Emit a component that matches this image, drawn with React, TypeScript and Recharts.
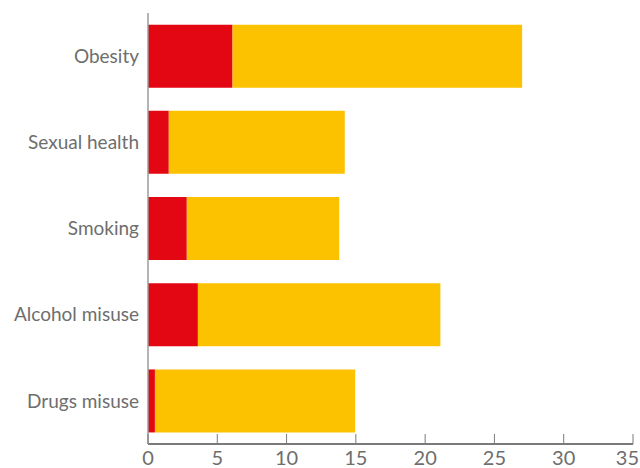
import React from 'react';
import { BarChart, Bar, XAxis, YAxis } from 'recharts';

const categories = ['Obesity', 'Sexual health', 'Smoking', 'Alcohol misuse', 'Drugs misuse'];
const redValues = [6.1, 1.5, 2.8, 3.6, 0.5];
const yellowValues = [20.9, 12.7, 11.0, 17.5, 14.45];
const xTicks = [0, 5, 10, 15, 20, 25, 30, 35];

const chartData = categories.map((name, i) => ({
  name,
  red: redValues[i],
  yellow: yellowValues[i],
}));

const XTick = ({ x, y, payload }: any) => {
  // keep the last label inside the picture
  const isLast = payload.value === xTicks[xTicks.length - 1];
  return (
    <g>
      <line x1={x} x2={x} y1={y - 10} y2={y} stroke="#7a7a7a" strokeWidth={1} />
      <text
        x={isLast ? 639 : x}
        y={y + 7}
        dy="0.72em"
        textAnchor={isLast ? 'end' : 'middle'}
        fill="#6e6e6e"
        fontSize={20}
        fontFamily="Lato, sans-serif"
      >
        {payload.value}
      </text>
    </g>
  );
};

export default function App() {
  return (
    <div style={{ width: 640, height: 468 }}>
      <style>{'body{margin:0;}'}</style>
      <BarChart
        width={640}
        height={468}
        data={chartData}
        layout="vertical"
        margin={{ top: 13, right: 7, bottom: 0, left: 0 }}
        barCategoryGap="13.5%"
      >
        <XAxis
          type="number"
          domain={[0, 35]}
          ticks={xTicks}
          interval={0}
          height={24}
          tickSize={0}
          tickMargin={0}
          tickLine={false}
          axisLine={{ stroke: '#7a7a7a', strokeWidth: 2 }}
          tick={<XTick />}
        />
        <YAxis
          type="category"
          dataKey="name"
          width={148}
          tickLine={false}
          tickSize={0}
          tickMargin={9}
          axisLine={{ stroke: '#9b9b9b', strokeWidth: 1.5 }}
          tick={{ fill: '#6e6e6e', fontSize: 19, fontFamily: 'Lato, sans-serif' }}
        />
        <Bar dataKey="red" stackId="a" fill="#e30613" isAnimationActive={false} />
        <Bar dataKey="yellow" stackId="a" fill="#fcc200" isAnimationActive={false} />
      </BarChart>
    </div>
  );
}
